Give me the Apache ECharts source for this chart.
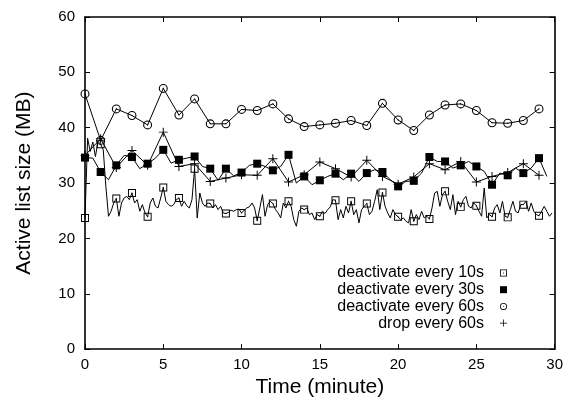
<!DOCTYPE html>
<html>
<head>
<meta charset="utf-8">
<script src="https://cdn.jsdelivr.net/npm/echarts@6/dist/echarts.min.js"></script>
<style>html,body{margin:0;padding:0;background:#fff}#c{width:566px;height:403px}</style>
</head>
<body>
<div id="c"></div>
<script>
// ---- data ----
const seriesNames = ['deactivate every 10s', 'deactivate every 30s', 'deactivate every 60s', 'drop every 60s'];
const step10 = 1 / 6, step30 = 0.5, step60 = 1; // minutes between samples
const deact10 = [
23.7, 38.1, 35.7, 37.4, 34.8, 37.5,
37.0, 36.0, 29.4, 24.0, 24.9, 26.4,
27.2, 24.0, 26.4, 27.3, 27.6, 27.0,
28.2, 26.4, 27.0, 24.9, 26.1, 24.6,
23.9, 26.4, 27.3, 25.8, 25.5, 27.3,
29.2, 26.7, 26.1, 25.8, 26.1, 27.0,
27.3, 25.8, 26.7, 25.9, 25.5, 27.0,
32.6, 23.7, 28.2, 26.4, 25.8, 26.4,
26.3, 25.5, 26.1, 25.2, 25.8, 24.6,
24.5, 24.7, 25.1, 24.9, 25.2, 25.3,
24.6, 25.1, 25.5, 25.7, 26.4, 25.5,
23.2, 25.5, 27.9, 24.0, 26.1, 26.7,
26.3, 25.2, 24.6, 23.7, 26.4, 25.5,
26.7, 25.8, 23.4, 22.2, 24.9, 25.5,
25.2, 25.5, 24.3, 24.6, 23.4, 24.3,
24.0, 24.9, 24.5, 25.2, 25.7, 27.0,
26.9, 23.4, 25.2, 23.7, 25.8, 24.6,
26.7, 24.3, 25.2, 22.8, 25.2, 25.8,
26.3, 24.3, 24.9, 26.7, 28.8, 25.2,
28.3, 25.8, 24.6, 23.7, 25.2, 24.3,
23.9, 23.4, 23.7, 23.1, 22.8, 25.2,
23.1, 24.3, 23.4, 24.9, 23.7, 24.0,
23.5, 25.5, 28.2, 28.5, 25.8, 27.9,
28.5, 26.7, 25.2, 27.9, 24.3, 26.7,
25.7, 27.0, 27.6, 25.8, 25.5, 26.4,
25.9, 24.9, 24.0, 29.1, 23.7, 24.3,
23.9, 25.5, 26.1, 24.6, 26.7, 24.0,
23.8, 25.2, 26.7, 24.9, 24.6, 26.1,
26.1, 26.7, 24.9, 26.4, 24.9, 24.3,
24.1, 24.9, 25.8, 24.9, 24.0, 24.6
];
const deact30 = [
34.6, 34.5, 32.0, 30.6, 33.2, 35.0, 34.7, 32.6, 33.5, 34.5,
36.0, 33.6, 34.2, 34.5, 34.8, 33.0, 32.6, 30.5, 32.6, 31.3,
31.9, 33.2, 33.5, 33.0, 32.3, 33.0, 35.1, 30.0, 31.2, 29.7,
30.5, 31.2, 31.7, 30.6, 31.7, 30.3, 31.8, 32.4, 32.0, 30.6,
29.4, 30.3, 30.4, 31.8, 34.7, 33.9, 33.9, 32.7, 33.2, 33.9,
33.0, 32.1, 29.7, 31.8, 31.4, 32.7, 31.8, 32.7, 34.5, 31.2
];
const deact60 = [
46.1, 37.7, 43.4, 42.2, 40.5, 47.1, 42.3, 45.2, 40.7, 40.7,
43.3, 43.1, 44.3, 41.6, 40.2, 40.5, 40.8, 41.3, 40.4, 44.4,
41.4, 39.5, 42.3, 44.1, 44.3, 43.1, 40.9, 40.8, 41.3, 43.4
];
const drop60 = [
35.0, 38.0, 32.8, 35.9, 33.2, 39.2, 33.0, 33.5, 30.3, 30.9,
31.5, 31.4, 34.4, 30.2, 31.5, 33.8, 32.6, 31.1, 34.1, 31.2,
29.8, 31.1, 33.5, 32.4, 33.9, 30.2, 31.2, 31.9, 33.5, 31.4
];
const markerEvery = [6, 2, 1, 1];
const xTicks = [0, 5, 10, 15, 20, 25, 30];
const yTicks = [0, 10, 20, 30, 40, 50, 60];

// ---- build ----
function pts(vals, step) { return vals.map((v, i) => [i * step, v]); }
const raw = [pts(deact10, step10), pts(deact30, step30), pts(deact60, step60), pts(drop60, step60)];

const SYM = [
  'path://M0 0H10V10H0Z M1.2 1.2V8.8H8.8V1.2Z M4.4 4.4H5.6V5.6H4.4Z',
  'rect',
  'path://M5 0A5 5 0 1 1 5 10A5 5 0 1 1 5 0Z M5 1.2A3.8 3.8 0 1 0 5 8.8A3.8 3.8 0 1 0 5 1.2Z M4.4 4.4H5.6V5.6H4.4Z',
  'path://M4.45 0H5.55V4.45H10V5.55H5.55V10H4.45V5.55H0V4.45H4.45Z'
];
const SIZE = [8, 8, 9, 9];
const FONT = "'Liberation Sans', Arial, Helvetica, sans-serif";

const series = [];
raw.forEach((d, k) => {
  series.push({
    name: '_line' + k, type: 'line', data: d, showSymbol: false, symbol: 'none',
    lineStyle: { color: '#000', width: 1 }, itemStyle: { color: '#000' },
    silent: true, animation: false, z: 2 + k
  });
  series.push({
    name: seriesNames[k], type: 'scatter',
    data: d.filter((p, i) => i % markerEvery[k] === 0),
    symbol: SYM[k], symbolSize: SIZE[k],
    itemStyle: { color: '#000', opacity: 1 },
    animation: false, z: 2 + k
  });
});

const axisCommon = {
  axisLine: { show: true, onZero: false, lineStyle: { color: '#000', width: 1.6 } },
  axisTick: { show: true, inside: true, length: 5, lineStyle: { color: '#000', width: 1 } },
  splitLine: { show: false }
};

const chart = echarts.init(document.getElementById('c'), null, { renderer: 'canvas' });
chart.setOption({
  backgroundColor: '#fff',
  animation: false,
  grid: { left: 85, right: 10, top: 17, bottom: 53, containLabel: false },
  legend: {
    data: seriesNames.map((n, k) => ({
      name: n,
      icon: SYM[k] === 'rect' ? 'rect' : SYM[k]
    })),
    orient: 'vertical', align: 'right',
    right: 54, top: 260,
    itemWidth: 7, itemHeight: 7, itemGap: 0.7,
    textStyle: { fontFamily: FONT, fontSize: 16, color: '#000', lineHeight: 16, padding: [0, 11, 0, 0] },
    selectedMode: false
  },
  xAxis: [
    Object.assign({
      type: 'value', min: xTicks[0], max: xTicks[xTicks.length - 1], interval: 5,
      position: 'bottom',
      name: 'Time (minute)', nameLocation: 'middle', nameGap: 23,
      nameTextStyle: { fontFamily: FONT, fontSize: 21, color: '#000' },
      axisLabel: { fontFamily: FONT, fontSize: 15, color: '#000', margin: 8 }
    }, axisCommon),
    Object.assign({
      type: 'value', min: xTicks[0], max: xTicks[xTicks.length - 1], interval: 5,
      position: 'top', axisLabel: { show: false }
    }, axisCommon)
  ],
  yAxis: [
    Object.assign({
      type: 'value', min: yTicks[0], max: yTicks[yTicks.length - 1], interval: 10,
      position: 'left',
      name: 'Active list size (MB)', nameLocation: 'middle', nameGap: 50,
      nameTextStyle: { fontFamily: FONT, fontSize: 21, color: '#000' },
      axisLabel: { fontFamily: FONT, fontSize: 15, color: '#000', margin: 10 }
    }, axisCommon),
    Object.assign({
      type: 'value', min: yTicks[0], max: yTicks[yTicks.length - 1], interval: 10,
      position: 'right', axisLabel: { show: false }
    }, axisCommon)
  ],
  series: series
});
</script>
</body>
</html>
